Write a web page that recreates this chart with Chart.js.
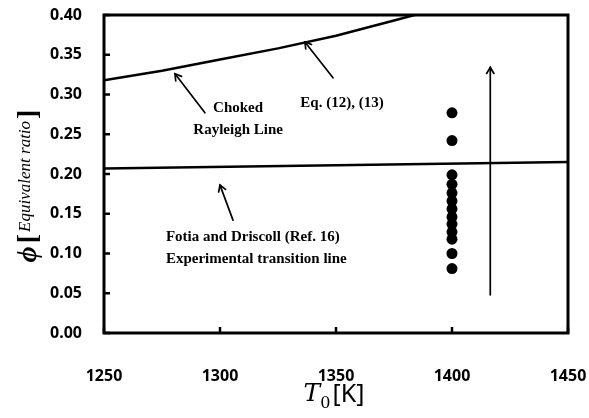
<!DOCTYPE html>
<html lang="en">
<head>
<meta charset="UTF-8">
<title>Equivalent ratio vs T0</title>
<script src="https://cdn.jsdelivr.net/npm/chart.js"></script>
<style>
  html, body { margin: 0; padding: 0; background: #fff; }
  #wrap { width: 589px; height: 418px; }
</style>
</head>
<body>
<div id="wrap"><canvas id="myChart"></canvas></div>
<script>
// data
var chokedT   = [1250, 1275, 1300, 1325, 1350, 1375, 1385];
var chokedPhi = [0.318, 0.330, 0.344, 0.358, 0.374, 0.393, 0.401];

var transT   = [1250, 1450];
var transPhi = [0.207, 0.215];

var expT   = [1400, 1400, 1400, 1400, 1400, 1400, 1400, 1400, 1400, 1400, 1400, 1400, 1400];
var expPhi = [0.277, 0.242, 0.199, 0.187, 0.176, 0.166, 0.156, 0.146, 0.137, 0.127, 0.118, 0.100, 0.081];

var xTicks = [1250, 1300, 1350, 1400, 1450];
var yTicks = [0, 0.05, 0.1, 0.15, 0.2, 0.25, 0.3, 0.35, 0.4];

// annotation arrows [tailT, tailPhi, headT, headPhi]
var arrows = [
  [1348.7, 0.321, 1336.6, 0.366],
  [1293.5, 0.277, 1280.6, 0.326],
  [1305.6, 0.142, 1300.0, 0.186],
  [1416.5, 0.048, 1416.5, 0.334]
];
// annotation texts [text, T, phi, align]
var notes = [
  ['Choked', 1307.8, 0.283, 'center'],
  ['Rayleigh Line', 1307.8, 0.255, 'center'],
  ['Eq. (12), (13)', 1352.6, 0.289, 'center'],
  ['Fotia and Driscoll (Ref. 16)', 1276.7, 0.121, 'left'],
  ['Experimental transition line', 1276.7, 0.093, 'left']
];

function pts(xs, ys) {
  return xs.map(function (x, i) { return { x: x, y: ys[i] }; });
}

var decor = {
  id: 'decor',
  afterDraw: function (chart) {
    var ctx = chart.ctx, a = chart.chartArea;
    var xs = chart.scales.x, ys = chart.scales.y;
    ctx.save();
    ctx.strokeStyle = '#000';
    ctx.fillStyle = '#000';

    // frame
    ctx.lineWidth = 3;
    ctx.strokeRect(a.left, a.top, a.right - a.left, a.bottom - a.top);

    // inward ticks
    ctx.lineWidth = 2.5;
    yTicks.forEach(function (v) {
      var y = ys.getPixelForValue(v);
      ctx.beginPath(); ctx.moveTo(a.left, y); ctx.lineTo(a.left + 6, y); ctx.stroke();
    });
    xTicks.forEach(function (v) {
      var x = xs.getPixelForValue(v);
      ctx.beginPath(); ctx.moveTo(x, a.bottom); ctx.lineTo(x, a.bottom - 6); ctx.stroke();
    });

    // arrows with chevron heads
    ctx.lineWidth = 1.7;
    ctx.lineCap = 'round';
    ctx.lineJoin = 'miter';
    arrows.forEach(function (ar) {
      var x1 = xs.getPixelForValue(ar[0]), y1 = ys.getPixelForValue(ar[1]);
      var x2 = xs.getPixelForValue(ar[2]), y2 = ys.getPixelForValue(ar[3]);
      var ang = Math.atan2(y2 - y1, x2 - x1);
      ctx.beginPath(); ctx.moveTo(x1, y1); ctx.lineTo(x2, y2); ctx.stroke();
      ctx.beginPath();
      ctx.moveTo(x2 - 7 * Math.cos(ang - 0.55), y2 - 7 * Math.sin(ang - 0.55));
      ctx.lineTo(x2, y2);
      ctx.lineTo(x2 - 7 * Math.cos(ang + 0.55), y2 - 7 * Math.sin(ang + 0.55));
      ctx.stroke();
    });

    // notes
    ctx.font = 'bold 15px "Liberation Serif", serif';
    ctx.textBaseline = 'middle';
    notes.forEach(function (n) {
      ctx.textAlign = n[3];
      ctx.fillText(n[0], xs.getPixelForValue(n[1]), ys.getPixelForValue(n[2]));
    });

    // x title: T0[K]
    ctx.textAlign = 'left';
    ctx.textBaseline = 'alphabetic';
    var f1 = 'italic 25px "DejaVu Serif", serif';
    var f2 = '16px "DejaVu Serif", serif';
    var f3 = '25px "Noto Sans", sans-serif';
    ctx.font = f1; var wT = ctx.measureText('T').width;
    ctx.font = f2; var w0 = ctx.measureText('0').width;
    ctx.font = f3; var wK = ctx.measureText('[K]').width;
    var cx = (a.left + a.right) / 2 - 2;
    var x0 = cx - (wT + w0 + 2 + wK) / 2, by = 403;
    ctx.font = f1; ctx.fillText('T', x0, by - 2);
    ctx.font = f2; ctx.fillText('0', x0 + wT, by + 5);
    ctx.font = f3; ctx.fillText('[K]', x0 + wT + w0 + 2, by - 1);

    // y title: phi [Equivalent ratio]
    ctx.translate(28, 186);
    ctx.rotate(-Math.PI / 2);
    var g1 = 'bold italic 28px "Liberation Serif", serif';
    var g2 = 'bold 28px "Liberation Serif", serif';
    var g3 = 'italic 17px "Liberation Serif", serif';
    ctx.font = g1; var wp = ctx.measureText('\u03D5').width;
    ctx.font = g2; var wb = ctx.measureText('[').width;
    ctx.font = g3; var we = ctx.measureText('Equivalent ratio').width;
    var tot = wp + 3 + wb + 2 + we + 2 + wb;
    var p = -tot / 2;
    ctx.font = g1; ctx.fillText('\u03D5', p, 8); p += wp + 3;
    ctx.font = g2; ctx.fillText('[', p, 8); p += wb + 2;
    ctx.font = g3; ctx.fillText('Equivalent ratio', p, 2); p += we + 2;
    ctx.font = g2; ctx.fillText(']', p, 8);
    ctx.restore();
  }
};

var ctx = document.getElementById('myChart').getContext('2d');
var myChart = new Chart(ctx, {
  type: 'scatter',
  data: {
    datasets: [
      {
        label: 'Choked Rayleigh Line',
        data: pts(chokedT, chokedPhi),
        showLine: true, borderColor: '#000', borderWidth: 2.5,
        pointRadius: 0, tension: 0, fill: false
      },
      {
        label: 'Fotia and Driscoll',
        data: pts(transT, transPhi),
        showLine: true, borderColor: '#000', borderWidth: 2.5,
        pointRadius: 0, fill: false
      },
      {
        label: 'Experiment',
        data: pts(expT, expPhi),
        showLine: false, pointRadius: 5.5,
        backgroundColor: '#000', borderColor: '#000', borderWidth: 0
      }
    ]
  },
  options: {
    responsive: true,
    maintainAspectRatio: false,
    animation: false,
    clip: 0,
    layout: { padding: { top: 15, right: 21, left: 0, bottom: 0 } },
    plugins: { legend: { display: false }, tooltip: { enabled: false } },
    scales: {
      x: {
        type: 'linear', min: 1250, max: 1450,
        grid: { display: false, drawTicks: false },
        border: { display: false },
        afterBuildTicks: function (s) { s.ticks = xTicks.map(function (v) { return { value: v }; }); },
        ticks: {
          padding: 34, color: '#000',
          font: { family: '"Noto Sans", sans-serif', size: 16, weight: 'bold' },
          callback: function (v) { return String(v); }
        },
        afterFit: function (s) { s.height = 85; s.paddingLeft = 0; s.paddingRight = 0; }
      },
      y: {
        type: 'linear', min: 0, max: 0.4,
        grid: { display: false, drawTicks: false },
        border: { display: false },
        afterBuildTicks: function (s) { s.ticks = yTicks.map(function (v) { return { value: v }; }); },
        ticks: {
          padding: 22, color: '#000',
          font: { family: '"Noto Sans", sans-serif', size: 16, weight: 'bold' },
          callback: function (v) { return v.toFixed(2); }
        },
        afterFit: function (s) { s.width = 104; s.paddingTop = 0; s.paddingBottom = 0; }
      }
    }
  },
  plugins: [decor]
});
</script>
</body>
</html>
